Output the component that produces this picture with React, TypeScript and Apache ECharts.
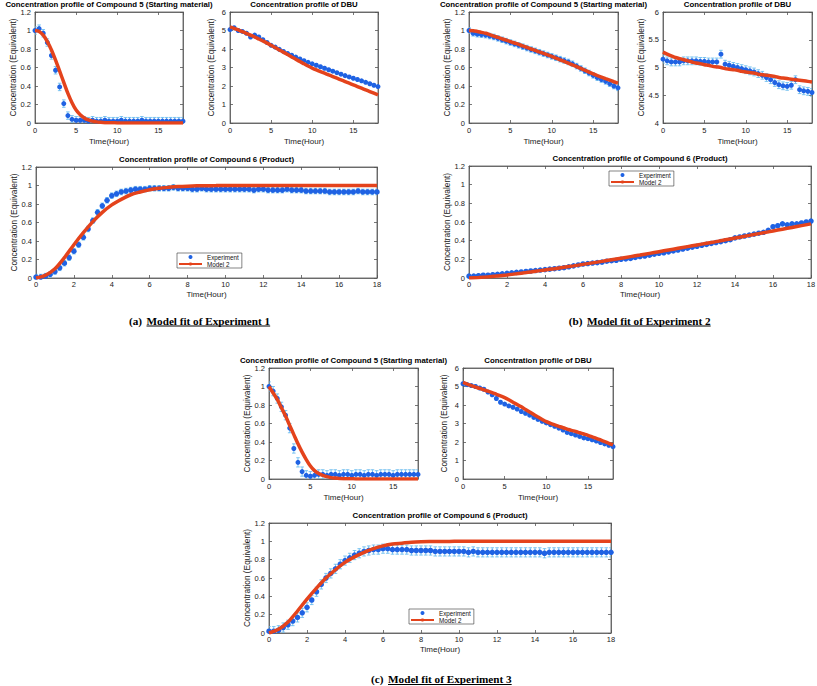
import React, { useEffect, useRef } from "react";
import * as echarts from "echarts";

// ---------- sample times (hours) ----------
const TIME_HALF_HOUR = [
  0, 0.5, 1, 1.5, 2, 2.5, 3, 3.5, 4, 4.5,
  5, 5.5, 6, 6.5, 7, 7.5, 8, 8.5, 9, 9.5,
  10, 10.5, 11, 11.5, 12, 12.5, 13, 13.5, 14, 14.5,
  15, 15.5, 16, 16.5, 17, 17.5, 18,
];
const TIME_QUARTER_HOUR = [
  0, 0.25, 0.5, 0.75, 1, 1.25, 1.5, 1.75,
  2, 2.25, 2.5, 2.75, 3, 3.25, 3.5, 3.75,
  4, 4.25, 4.5, 4.75, 5, 5.25, 5.5, 5.75,
  6, 6.25, 6.5, 6.75, 7, 7.25, 7.5, 7.75,
  8, 8.25, 8.5, 8.75, 9, 9.25, 9.5, 9.75,
  10, 10.25, 10.5, 10.75, 11, 11.25, 11.5, 11.75,
  12, 12.25, 12.5, 12.75, 13, 13.25, 13.5, 13.75,
  14, 14.25, 14.5, 14.75, 15, 15.25, 15.5, 15.75,
  16, 16.25, 16.5, 16.75, 17, 17.25, 17.5, 17.75,
  18,
];

// ---------- Experiment 1 ----------
const EXP1_COMPOUND5_MEASURED = [
  1.0, 1.02, 0.97, 0.87, 0.73, 0.57, 0.39, 0.21, 0.08, 0.04,
  0.03, 0.03, 0.03, 0.02, 0.03, 0.02, 0.02, 0.03, 0.02, 0.02,
  0.02, 0.03, 0.02, 0.02, 0.02, 0.02, 0.03, 0.02, 0.02, 0.02,
  0.02, 0.02, 0.02, 0.02, 0.02, 0.02, 0.02,
];
const EXP1_COMPOUND5_MODEL = [
  1.0, 0.99, 0.95, 0.88, 0.79, 0.68, 0.56, 0.44, 0.32, 0.22,
  0.14, 0.09, 0.055, 0.033, 0.02, 0.012, 0.007, 0.004, 0.003, 0.002,
  0.001, 0.001, 0, 0, 0, 0, 0, 0, 0, 0,
  0, 0, 0, 0, 0, 0, 0,
];
const EXP1_DBU_MEASURED = [
  5.05, 5.15, 5.0, 4.95, 4.85, 4.65, 4.75, 4.65, 4.5, 4.35,
  4.2, 4.1, 3.98, 3.87, 3.76, 3.66, 3.56, 3.46, 3.37, 3.28,
  3.2, 3.12, 3.04, 2.96, 2.88, 2.8, 2.72, 2.64, 2.56, 2.49,
  2.42, 2.35, 2.28, 2.2, 2.12, 2.04, 1.97,
];
const EXP1_DBU_MODEL = [
  5.2, 5.12, 5.03, 4.94, 4.85, 4.75, 4.65, 4.54, 4.43, 4.32,
  4.2, 4.08, 3.95, 3.83, 3.7, 3.57, 3.45, 3.32, 3.2, 3.08,
  2.97, 2.87, 2.78, 2.69, 2.6, 2.51, 2.42, 2.33, 2.24, 2.15,
  2.06, 1.97, 1.88, 1.79, 1.7, 1.61, 1.52,
];
const EXP1_COMPOUND6_MEASURED = [
  0.01, 0.01, 0.02, 0.04, 0.07, 0.11, 0.16, 0.22,
  0.29, 0.36, 0.44, 0.53, 0.62, 0.71, 0.78, 0.84,
  0.89, 0.91, 0.93, 0.94, 0.95, 0.96, 0.96, 0.96,
  0.97, 0.97, 0.97, 0.97, 0.97, 0.98, 0.97, 0.97,
  0.97, 0.96, 0.96, 0.97, 0.96, 0.96, 0.96, 0.96,
  0.96, 0.96, 0.96, 0.96, 0.96, 0.96, 0.95, 0.96,
  0.96, 0.95, 0.95, 0.95, 0.95, 0.96, 0.95, 0.95,
  0.95, 0.94, 0.94, 0.94, 0.94, 0.94, 0.93, 0.93,
  0.93, 0.93, 0.93, 0.93, 0.94, 0.93, 0.93, 0.93,
  0.93,
];
const EXP1_COMPOUND6_MODEL = [
  0, 0.03, 0.1, 0.22, 0.36, 0.49, 0.61, 0.71, 0.79, 0.85,
  0.9, 0.93, 0.955, 0.97, 0.98, 0.988, 0.993, 0.996, 0.998, 0.999,
  1, 1, 1, 1, 1, 1, 1, 1, 1, 1,
  1, 1, 1, 1, 1, 1, 1,
];

// ---------- Experiment 2 ----------
const EXP2_COMPOUND5_MEASURED = [
  1.0, 0.97, 0.96, 0.955, 0.95, 0.94, 0.93, 0.915, 0.9, 0.885,
  0.87, 0.855, 0.84, 0.825, 0.81, 0.795, 0.78, 0.765, 0.75, 0.735,
  0.72, 0.705, 0.69, 0.675, 0.66, 0.64, 0.615, 0.59, 0.565, 0.54,
  0.515, 0.49, 0.47, 0.45, 0.425, 0.4, 0.38,
];
const EXP2_COMPOUND5_MODEL = [
  1.0, 0.998, 0.99, 0.98, 0.97, 0.955, 0.94, 0.925, 0.91, 0.895,
  0.88, 0.865, 0.85, 0.833, 0.817, 0.8, 0.785, 0.768, 0.752, 0.736,
  0.72, 0.701, 0.683, 0.665, 0.647, 0.628, 0.61, 0.59, 0.57, 0.55,
  0.53, 0.513, 0.497, 0.48, 0.463, 0.446, 0.43,
];
const EXP2_DBU_MEASURED = [
  5.15, 5.12, 5.1, 5.1, 5.1, 5.12, 5.12, 5.12, 5.12, 5.11,
  5.11, 5.1, 5.1, 5.1, 5.24, 5.06, 5.04, 5.02, 5.0, 4.98,
  4.96, 4.94, 4.92, 4.89, 4.86, 4.82, 4.78, 4.73, 4.69, 4.67,
  4.66, 4.68, 4.78, 4.6, 4.58, 4.57, 4.55,
];
const EXP2_DBU_MODEL = [
  5.28, 5.24, 5.21, 5.18, 5.16, 5.14, 5.12, 5.1, 5.08, 5.07,
  5.05, 5.04, 5.02, 5.01, 5.0, 4.98, 4.97, 4.96, 4.95, 4.93,
  4.92, 4.91, 4.9, 4.88, 4.87, 4.86, 4.85, 4.84, 4.82, 4.81,
  4.8, 4.79, 4.78, 4.77, 4.76, 4.75, 4.74,
];
const EXP2_COMPOUND6_MEASURED = [
  0.02, 0.02, 0.025, 0.03, 0.03, 0.035, 0.04, 0.045,
  0.05, 0.055, 0.06, 0.065, 0.07, 0.075, 0.08, 0.085,
  0.09, 0.095, 0.1, 0.105, 0.11, 0.12, 0.13, 0.14,
  0.15, 0.155, 0.16, 0.165, 0.17, 0.18, 0.185, 0.19,
  0.2, 0.205, 0.21, 0.22, 0.23, 0.235, 0.245, 0.255,
  0.265, 0.27, 0.28, 0.29, 0.3, 0.31, 0.32, 0.33,
  0.34, 0.35, 0.36, 0.37, 0.38, 0.39, 0.4, 0.41,
  0.43, 0.44, 0.45, 0.46, 0.47, 0.48, 0.49, 0.51,
  0.55, 0.56, 0.58, 0.57, 0.58, 0.58, 0.59, 0.6,
  0.61,
];
const EXP2_COMPOUND6_MODEL = [
  0, 0.005, 0.012, 0.022, 0.033, 0.045, 0.058, 0.072, 0.086, 0.1,
  0.115, 0.13, 0.146, 0.162, 0.178, 0.195, 0.212, 0.229, 0.246, 0.264,
  0.282, 0.3, 0.318, 0.336, 0.354, 0.372, 0.39, 0.409, 0.428, 0.447,
  0.466, 0.485, 0.504, 0.523, 0.542, 0.561, 0.58,
];

// ---------- Experiment 3 ----------
const EXP3_COMPOUND5_MEASURED = [
  1.0, 0.95, 0.87, 0.78, 0.69, 0.55, 0.33, 0.18, 0.08, 0.04,
  0.03, 0.04, 0.05, 0.05, 0.04, 0.05, 0.05, 0.04, 0.05, 0.05,
  0.04, 0.05, 0.05, 0.04, 0.05, 0.05, 0.04, 0.05, 0.05, 0.05,
  0.04, 0.05, 0.05, 0.05, 0.05, 0.05, 0.05,
];
const EXP3_COMPOUND5_MODEL = [
  1.0, 0.93, 0.86, 0.77, 0.68, 0.58, 0.48, 0.38, 0.29, 0.21,
  0.14, 0.09, 0.06, 0.04, 0.025, 0.015, 0.01, 0.006, 0.004, 0.003,
  0.002, 0.001, 0.001, 0, 0, 0, 0, 0, 0, 0,
  0, 0, 0, 0, 0, 0, 0,
];
const EXP3_DBU_MEASURED = [
  5.15, 5.1, 5.05, 5.0, 4.92, 4.85, 4.7, 4.55, 4.35, 4.15,
  4.05, 3.95, 3.88, 3.78, 3.65, 3.55, 3.45, 3.33, 3.22, 3.12,
  3.03, 2.94, 2.85, 2.75, 2.65, 2.52, 2.45, 2.38, 2.3, 2.22,
  2.18, 2.12, 2.05, 1.97, 1.9, 1.82, 1.75,
];
const EXP3_DBU_MODEL = [
  5.22, 5.13, 5.05, 4.97, 4.9, 4.82, 4.75, 4.67, 4.58, 4.49,
  4.4, 4.28, 4.15, 4.03, 3.9, 3.76, 3.62, 3.48, 3.35, 3.22,
  3.1, 3.01, 2.93, 2.85, 2.77, 2.7, 2.63, 2.57, 2.5, 2.43,
  2.36, 2.28, 2.2, 2.11, 2.02, 1.93, 1.84,
];
const EXP3_COMPOUND6_MEASURED = [
  0.02, 0.02, 0.03, 0.06, 0.09, 0.13, 0.17, 0.22,
  0.28, 0.36, 0.45, 0.53, 0.6, 0.65, 0.7, 0.75,
  0.79, 0.82, 0.85, 0.87, 0.89, 0.9, 0.91, 0.91,
  0.92, 0.92, 0.91, 0.91, 0.91, 0.91, 0.9, 0.9,
  0.9, 0.9, 0.9, 0.89, 0.89, 0.89, 0.89, 0.89,
  0.89, 0.89, 0.88, 0.89, 0.88, 0.88, 0.88, 0.88,
  0.88, 0.88, 0.88, 0.88, 0.88, 0.88, 0.88, 0.88,
  0.88, 0.88, 0.87, 0.88, 0.88, 0.88, 0.88, 0.88,
  0.88, 0.88, 0.88, 0.88, 0.88, 0.88, 0.88, 0.88,
  0.88,
];
const EXP3_COMPOUND6_MODEL = [
  0, 0.04, 0.12, 0.24, 0.37, 0.49, 0.6, 0.69, 0.77, 0.83,
  0.88, 0.92, 0.95, 0.97, 0.98, 0.99, 0.995, 0.997, 0.998, 0.999,
  1, 1, 1, 1, 1, 1, 1, 1, 1, 1,
  1, 1, 1, 1, 1, 1, 1,
];

// error bar half-widths (equivalents), one per panel
const ERROR_EXP1 = [0.04, 0.06, 0.03]; // compound 5, DBU, compound 6
const ERROR_EXP2 = [0.03, 0.07, 0.012];
const ERROR_EXP3 = [0.05, 0.08, 0.05];

// tick settings
const Y_TICKS_FRACTION = [0, 1.2, 0.2]; // min, max, interval
const Y_TICKS_DBU = [0, 6, 1];
const Y_TICKS_DBU_EXP2 = [4, 6, 0.5];
const X_TICKS_SMALL = [0, 18, 5];
const X_TICKS_WIDE = [0, 18, 2];

const TITLE_SM = "Concentration profile of Compound 5 (Starting material)";
const TITLE_DBU = "Concentration profile of DBU";
const TITLE_PRODUCT = "Concentration profile of Compound 6 (Product)";
const X_NAME = "Time(Hour)";
const Y_NAME = "Concentration (Equivalent)";
const LEGEND_NAMES = ["Experiment", "Model 2"];

// ---------- styling ----------
const SANS = "'Liberation Sans', Arial, Helvetica, sans-serif";
const SERIF = "'Liberation Serif', 'Times New Roman', serif";
const BLUE = "#1f62e3";
const ERR_BLUE = "#5db6ee";
const RED = "#e4431c";
const AXIS_COLOR = "#555";
const TEXT_COLOR = "#1a1a1a";

type Panel = {
  title: string;
  rect: [number, number, number, number];
  xt: number[];
  yt: number[];
  expT: number[];
  exp: number[];
  err: number;
  model: number[];
};

const PANELS: Panel[] = [
  { title: TITLE_SM, rect: [35, 12, 148, 111], xt: X_TICKS_SMALL, yt: Y_TICKS_FRACTION, expT: TIME_HALF_HOUR, exp: EXP1_COMPOUND5_MEASURED, err: ERROR_EXP1[0], model: EXP1_COMPOUND5_MODEL },
  { title: TITLE_DBU, rect: [230, 12, 148, 111], xt: X_TICKS_SMALL, yt: Y_TICKS_DBU, expT: TIME_HALF_HOUR, exp: EXP1_DBU_MEASURED, err: ERROR_EXP1[1], model: EXP1_DBU_MODEL },
  { title: TITLE_PRODUCT, rect: [36, 167, 341, 111], xt: X_TICKS_WIDE, yt: Y_TICKS_FRACTION, expT: TIME_QUARTER_HOUR, exp: EXP1_COMPOUND6_MEASURED, err: ERROR_EXP1[2], model: EXP1_COMPOUND6_MODEL },
  { title: TITLE_SM, rect: [469, 12, 149, 111], xt: X_TICKS_SMALL, yt: Y_TICKS_FRACTION, expT: TIME_HALF_HOUR, exp: EXP2_COMPOUND5_MEASURED, err: ERROR_EXP2[0], model: EXP2_COMPOUND5_MODEL },
  { title: TITLE_DBU, rect: [663, 12, 149, 111], xt: X_TICKS_SMALL, yt: Y_TICKS_DBU_EXP2, expT: TIME_HALF_HOUR, exp: EXP2_DBU_MEASURED, err: ERROR_EXP2[1], model: EXP2_DBU_MODEL },
  { title: TITLE_PRODUCT, rect: [469, 166, 342, 112], xt: X_TICKS_WIDE, yt: Y_TICKS_FRACTION, expT: TIME_QUARTER_HOUR, exp: EXP2_COMPOUND6_MEASURED, err: ERROR_EXP2[2], model: EXP2_COMPOUND6_MODEL },
  { title: TITLE_SM, rect: [269, 368, 149, 111], xt: X_TICKS_SMALL, yt: Y_TICKS_FRACTION, expT: TIME_HALF_HOUR, exp: EXP3_COMPOUND5_MEASURED, err: ERROR_EXP3[0], model: EXP3_COMPOUND5_MODEL },
  { title: TITLE_DBU, rect: [463, 368, 150, 111], xt: X_TICKS_SMALL, yt: Y_TICKS_DBU, expT: TIME_HALF_HOUR, exp: EXP3_DBU_MEASURED, err: ERROR_EXP3[1], model: EXP3_DBU_MODEL },
  { title: TITLE_PRODUCT, rect: [269, 523, 342, 110], xt: X_TICKS_WIDE, yt: Y_TICKS_FRACTION, expT: TIME_QUARTER_HOUR, exp: EXP3_COMPOUND6_MEASURED, err: ERROR_EXP3[2], model: EXP3_COMPOUND6_MODEL },
];

const LEGEND_POSITIONS: [number, number][] = [
  [177, 253],
  [609, 171],
  [409, 609],
];

const CAPTIONS = [
  { label: "(a)", text: "Model fit of Experiment 1", x: 146.5, y: 320.5 },
  { label: "(b)", text: "Model fit of Experiment 2", x: 587, y: 320.5 },
  { label: "(c)", text: "Model fit of Experiment 3", x: 388, y: 679 },
];

function measure(text: string, font: string): number {
  const ctx = document.createElement("canvas").getContext("2d");
  if (!ctx) return text.length * 5;
  ctx.font = font;
  return ctx.measureText(text).width;
}

function buildOption(): any {
  const grid: any[] = [];
  const xAxis: any[] = [];
  const yAxis: any[] = [];
  const series: any[] = [];
  const graphic: any[] = [];

  const axisLine = { show: true, onZero: false, lineStyle: { color: AXIS_COLOR, width: 0.8 } };
  const axisTick = { show: true, inside: true, length: 3, lineStyle: { color: AXIS_COLOR, width: 0.8 } };

  PANELS.forEach((p, i) => {
    const [left, top, width, height] = p.rect;
    grid.push({
      left, top, width, height,
      show: true, borderColor: AXIS_COLOR, borderWidth: 0.8,
      backgroundColor: "#fff", containLabel: false, outerBoundsMode: "none",
    });
    const wide = width > 200;
    xAxis.push({
      type: "value", gridIndex: i, position: "bottom",
      min: p.xt[0], max: p.xt[1], interval: p.xt[2],
      name: X_NAME, nameLocation: "middle", nameGap: wide ? 12 : 14,
      nameTextStyle: { fontSize: 8, color: TEXT_COLOR, fontFamily: SANS },
      axisLine, axisTick,
      axisLabel: { fontSize: 7.5, color: TEXT_COLOR, fontFamily: SANS, margin: wide ? 2 : 3, showMaxLabel: p.xt[2] === 2 },
      splitLine: { show: false },
    });
    xAxis.push({
      type: "value", gridIndex: i, position: "top",
      min: p.xt[0], max: p.xt[1], interval: p.xt[2],
      axisLine, axisTick, axisLabel: { show: false }, splitLine: { show: false },
    });
    yAxis.push({
      type: "value", gridIndex: i, position: "left",
      min: p.yt[0], max: p.yt[1], interval: p.yt[2],
      name: Y_NAME, nameLocation: "middle", nameRotate: 90, nameGap: 15,
      nameTextStyle: { fontSize: 8.3, color: TEXT_COLOR, fontFamily: SANS },
      axisLine, axisTick,
      axisLabel: { fontSize: 7.5, color: TEXT_COLOR, fontFamily: SANS, margin: 4 },
      splitLine: { show: false },
    });
    yAxis.push({
      type: "value", gridIndex: i, position: "right",
      min: p.yt[0], max: p.yt[1], interval: p.yt[2],
      axisLine, axisTick, axisLabel: { show: false }, splitLine: { show: false },
    });

    const xi = i * 2;
    const yi = i * 2;
    series.push({
      type: "custom", name: "Error bar", xAxisIndex: xi, yAxisIndex: yi,
      clip: true, z: 2, silent: true,
      data: p.expT.map((t, k) => [t, p.exp[k], p.err]),
      encode: { x: 0, y: 1 },
      renderItem: (_params: any, api: any) => {
        const t = api.value(0);
        const v = api.value(1);
        const e = api.value(2);
        const hi = api.coord([t, v + e]);
        const lo = api.coord([t, v - e]);
        const cap = 1.8;
        const style = { stroke: ERR_BLUE, lineWidth: 0.8 };
        return {
          type: "group",
          children: [
            { type: "line", shape: { x1: hi[0], y1: hi[1], x2: lo[0], y2: lo[1] }, style },
            { type: "line", shape: { x1: hi[0] - cap, y1: hi[1], x2: hi[0] + cap, y2: hi[1] }, style },
            { type: "line", shape: { x1: lo[0] - cap, y1: lo[1], x2: lo[0] + cap, y2: lo[1] }, style },
          ],
        };
      },
    });
    series.push({
      type: "scatter", name: LEGEND_NAMES[0], xAxisIndex: xi, yAxisIndex: yi,
      symbol: "circle", symbolSize: wide ? 5.5 : 5, z: 3, clip: true,
      itemStyle: { color: BLUE, opacity: 1 },
      data: p.expT.map((t, k) => [t, p.exp[k]]),
    });
    series.push({
      type: "line", name: LEGEND_NAMES[1], xAxisIndex: xi, yAxisIndex: yi,
      symbol: "none", smooth: 0.3, z: 4, clip: true,
      lineStyle: { color: RED, width: 3.5 },
      itemStyle: { color: RED },
      data: TIME_HALF_HOUR.map((t, k) => [t, p.model[k]]),
    });

    graphic.push({
      type: "text", x: left + width / 2, y: top - 8, z: 100,
      style: {
        text: p.title, font: `bold 7.8px ${SANS}`, fill: "#000",
        align: "center", verticalAlign: "middle", textAlign: "center", textVerticalAlign: "middle",
      },
    });
  });

  const captionFont = `bold 11.2px ${SERIF}`;
  CAPTIONS.forEach((c) => {
    graphic.push({
      type: "text", x: c.x - 4.5, y: c.y, z: 100,
      style: { text: c.label, font: captionFont, fill: "#000", align: "right", verticalAlign: "middle", textAlign: "right", textVerticalAlign: "middle" },
    });
    graphic.push({
      type: "text", x: c.x, y: c.y, z: 100,
      style: { text: c.text, font: captionFont, fill: "#000", align: "left", verticalAlign: "middle", textAlign: "left", textVerticalAlign: "middle" },
    });
    const w = measure(c.text, captionFont);
    graphic.push({
      type: "line", z: 100,
      shape: { x1: c.x, y1: c.y + 5.5, x2: c.x + w, y2: c.y + 5.5 },
      style: { stroke: "#000", lineWidth: 1 },
    });
  });

  const legend = LEGEND_POSITIONS.map(([left, top]) => ({
    data: LEGEND_NAMES, left, top, orient: "vertical", z: 20,
    itemWidth: 23, itemHeight: 4, itemGap: 1, padding: [1, 3, 1, 1],
    borderColor: "#333", borderWidth: 0.6, backgroundColor: "#fff",
    textStyle: { fontSize: 6.3, color: "#111", fontFamily: SANS },
    selectedMode: false,
  }));

  return {
    animation: false,
    backgroundColor: "#fff",
    textStyle: { fontFamily: SANS },
    grid, xAxis, yAxis, series, legend, graphic,
  };
}

export default function App() {
  const ref = useRef<HTMLDivElement>(null);
  useEffect(() => {
    if (!ref.current) return;
    const chart = echarts.init(ref.current, null, { renderer: "svg" });
    chart.setOption(buildOption());
    return () => chart.dispose();
  }, []);
  return (
    <div
      ref={ref}
      style={{ position: "absolute", left: 0, top: 0, width: 817, height: 686, background: "#fff" }}
    />
  );
}
